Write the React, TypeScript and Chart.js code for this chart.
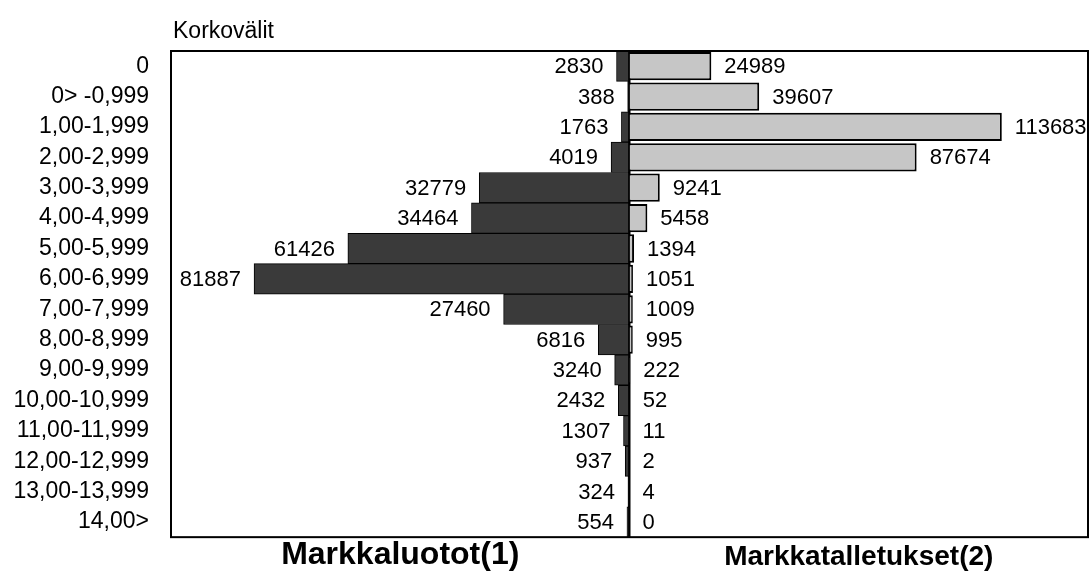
import React, { useEffect, useRef } from "react";
import { Chart, registerables } from "chart.js";

Chart.register(...registerables);

const categories = [
  "0",
  "0> -0,999",
  "1,00-1,999",
  "2,00-2,999",
  "3,00-3,999",
  "4,00-4,999",
  "5,00-5,999",
  "6,00-6,999",
  "7,00-7,999",
  "8,00-8,999",
  "9,00-9,999",
  "10,00-10,999",
  "11,00-11,999",
  "12,00-12,999",
  "13,00-13,999",
  "14,00>",
];

const loans = [2830, 388, 1763, 4019, 32779, 34464, 61426, 81887, 27460, 6816, 3240, 2432, 1307, 937, 324, 554];
const deposits = [24989, 39607, 113683, 87674, 9241, 5458, 1394, 1051, 1009, 995, 222, 52, 11, 2, 4, 0];

const loansLabel = "Markkaluotot(1)";
const depositsLabel = "Markkatalletukset(2)";
const categoryTitle = "Korkovälit";
const loansMax = 100000;
const depositsMax = 140000;

const FONT = '"Liberation Sans", Arial, Helvetica, sans-serif';

export default function App() {
  const ref = useRef<HTMLCanvasElement | null>(null);

  useEffect(() => {
    document.body.style.margin = "0";
    document.body.style.overflow = "hidden";
    const canvas = ref.current;
    if (!canvas) return;

    const decor = {
      id: "decor",
      afterDatasetsDraw(chart: any) {
        const { ctx, chartArea } = chart;
        ctx.save();
        // value labels
        ctx.fillStyle = "#000";
        ctx.font = `22px ${FONT}`;
        ctx.textBaseline = "middle";
        chart.data.datasets.forEach((ds: any, di: number) => {
          const meta = chart.getDatasetMeta(di);
          meta.data.forEach((el: any, i: number) => {
            const v = ds.data[i];
            if (di === 0) {
              ctx.textAlign = "right";
              ctx.fillText(String(v), el.x - 13, el.y + 1);
            } else {
              ctx.textAlign = "left";
              ctx.fillText(String(v), el.x + 13, el.y + 1);
            }
          });
        });
        // frame
        ctx.strokeStyle = "#000";
        ctx.lineWidth = 2;
        ctx.strokeRect(chartArea.left, chartArea.top, chartArea.right - chartArea.left, chartArea.bottom - chartArea.top);
        // category title
        ctx.font = `23px ${FONT}`;
        ctx.textAlign = "left";
        ctx.textBaseline = "alphabetic";
        ctx.fillText(categoryTitle, chartArea.left + 2, 38);
        ctx.restore();
      },
    };

    const chart = new Chart(canvas, {
      type: "bar",
      data: {
        labels: categories,
        datasets: [
          {
            label: loansLabel,
            data: loans,
            xAxisID: "xL",
            backgroundColor: "#3a3a3a",
            borderColor: "#000",
            borderWidth: 1,
            barPercentage: 1,
            categoryPercentage: 1,
            grouped: false,
          } as any,
          {
            label: depositsLabel,
            data: deposits,
            xAxisID: "xR",
            backgroundColor: "#c6c6c6",
            borderColor: "#000",
            borderWidth: 2,
            barPercentage: 0.93,
            categoryPercentage: 1,
            grouped: false,
          } as any,
        ],
      },
      options: {
        indexAxis: "y",
        responsive: false,
        animation: false,
        layout: { padding: { top: 51, right: 3, left: 0, bottom: 0 } },
        plugins: {
          legend: { display: false },
          tooltip: { enabled: false },
          title: { display: false },
        },
        scales: {
          y: {
            type: "category",
            position: "left",
            grid: { display: false, drawTicks: false },
            border: { display: false },
            ticks: { color: "#000", font: { family: FONT, size: 23 }, padding: 22, autoSkip: false },
            afterFit: (s: any) => {
              s.width = 171;
            },
          },
          xL: {
            type: "linear",
            position: "bottom",
            stack: "bottom",
            stackWeight: 1,
            min: 0,
            max: loansMax,
            reverse: true,
            z: 1,
            ticks: { display: false },
            grid: {
              display: true,
              drawTicks: false,
              color: (c: any) => (c.tick && c.tick.value === 0 ? "#000" : "rgba(0,0,0,0)"),
              lineWidth: 2.5,
            },
            border: { display: false },
            title: {
              display: true,
              text: loansLabel,
              color: "#000",
              font: { family: FONT, size: 32, weight: "bold", lineHeight: 1.12 },
              padding: { top: 0, bottom: 2 },
            },
          },
          xR: {
            type: "linear",
            position: "bottom",
            stack: "bottom",
            stackWeight: 1,
            min: 0,
            max: depositsMax,
            ticks: { display: false },
            grid: { display: false, drawTicks: false },
            border: { display: false },
            title: {
              display: true,
              text: depositsLabel,
              color: "#000",
              font: { family: FONT, size: 28, weight: "bold", lineHeight: 1.15 },
              padding: { top: 0, bottom: 2 },
            },
          },
        } as any,
      },
      plugins: [decor],
    });

    return () => chart.destroy();
  }, []);

  return (
    <div style={{ width: 1091, height: 575 }}>
      <canvas ref={ref} width={1091} height={575} />
    </div>
  );
}
